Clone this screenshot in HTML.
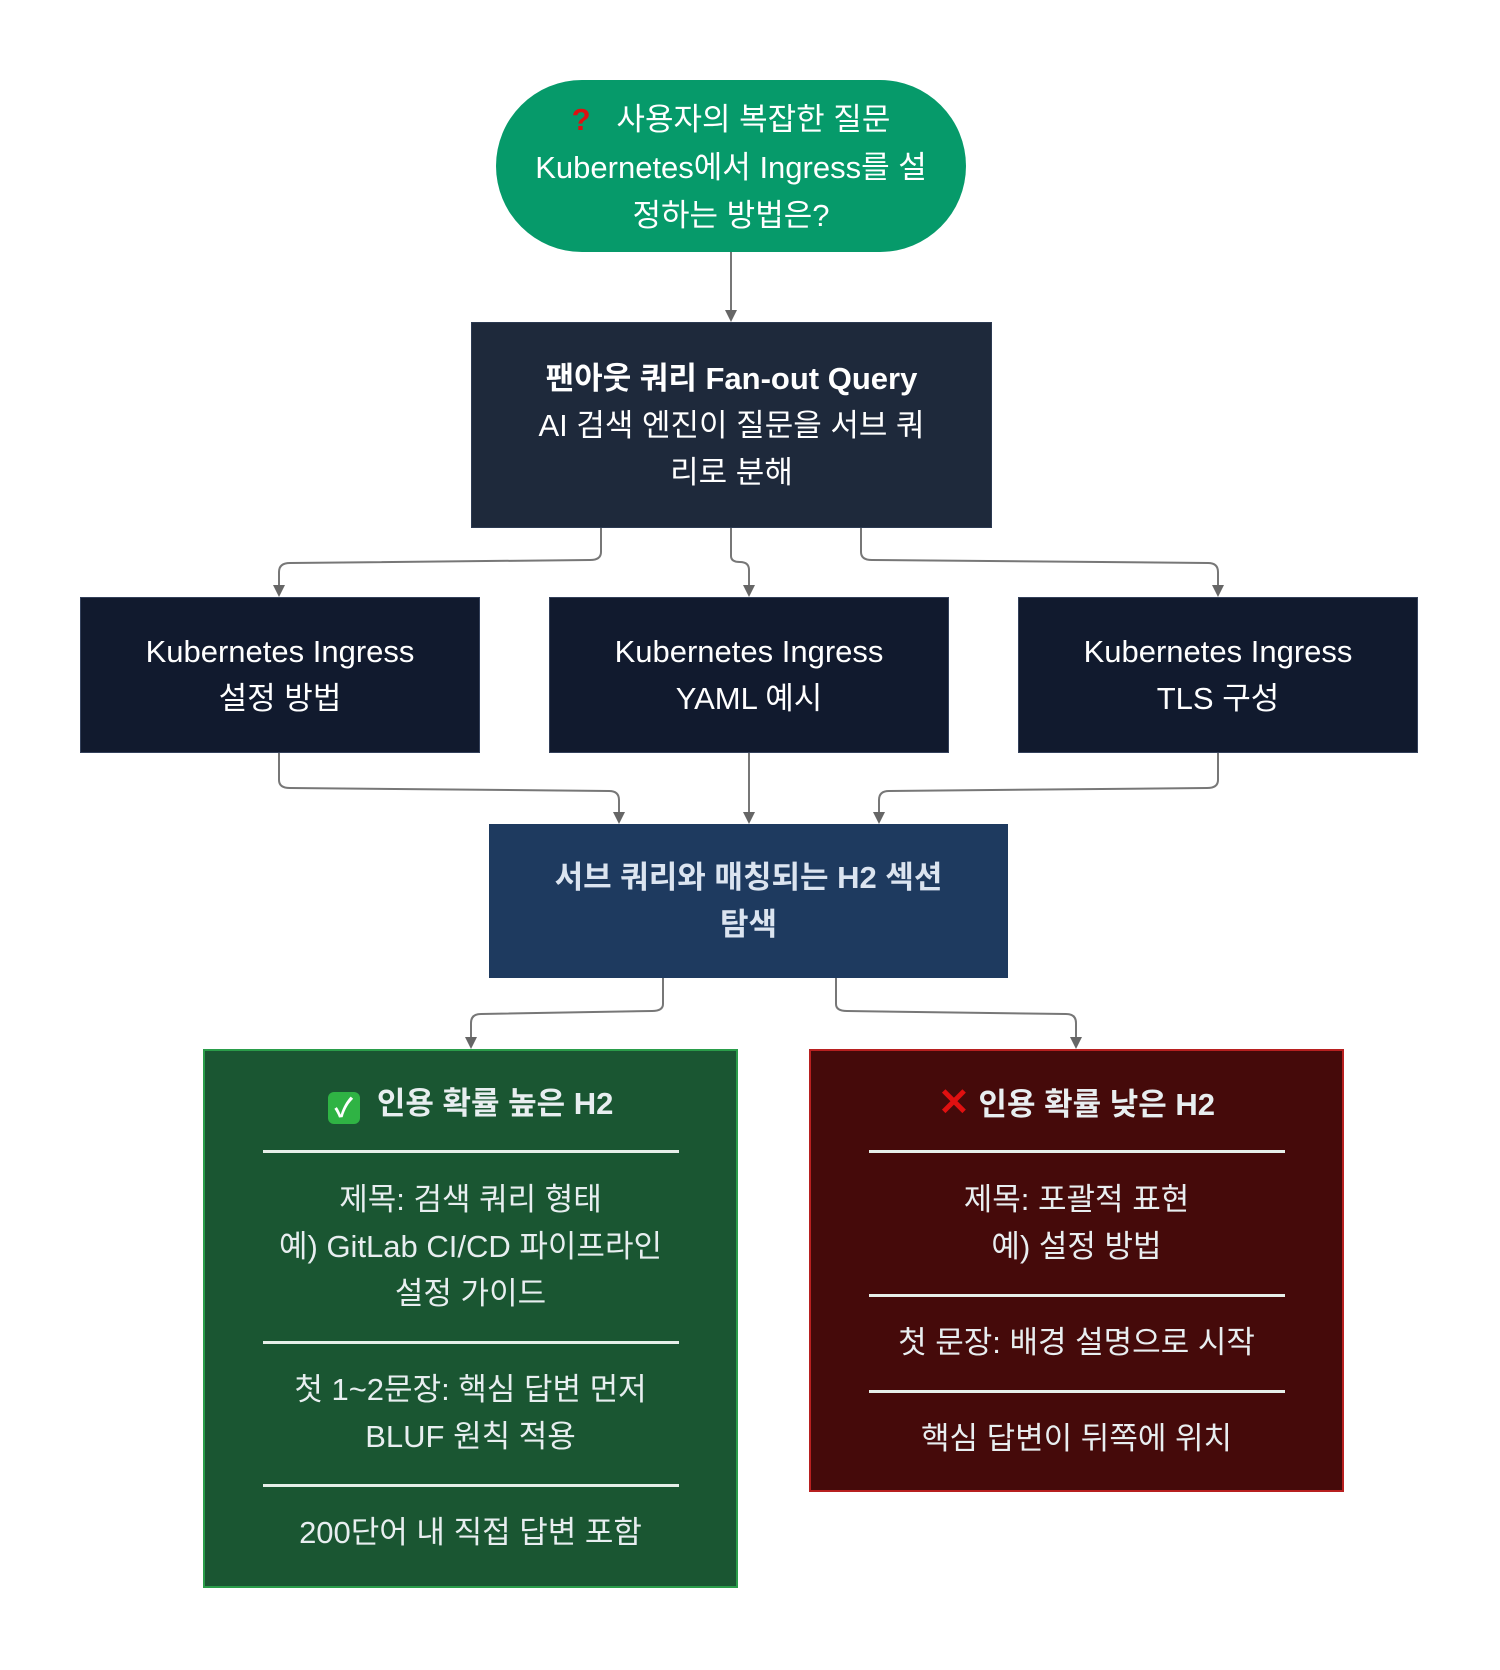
<!DOCTYPE html>
<html><head><meta charset="utf-8"><style>
body{margin:0;background:#fff;width:1500px;height:1670px;position:relative;overflow:hidden;font-family:"Liberation Sans","Noto Sans CJK KR",sans-serif;}
.n{position:absolute;box-sizing:border-box;display:flex;flex-direction:column;align-items:center;justify-content:center;text-align:center;color:#fff;font-size:31px;line-height:47px;}
.b{font-weight:bold}
.sep{width:416px;height:3px;background:#e6efe9;margin:0}
</style></head><body>
<svg width="1500" height="1670" style="position:absolute;left:0;top:0">
<g fill="none" stroke="#777" stroke-width="2">
<path d="M731,252 V312"/>
<path d="M601,528 V552 Q601,560 590,560 L290,563 Q279,563 279,572 V588" />
<path d="M731,528 V556 Q731,562 740,562 Q749,562 749,570 V588"/>
<path d="M861,528 V552 Q861,560 872,560 L1208,563 Q1218,563 1218,572 V588"/>
<path d="M279,753 V780 Q279,788 290,788 L609,791 Q619,791 619,800 V815"/>
<path d="M749,753 V815"/>
<path d="M1218,753 V780 Q1218,788 1207,788 L889,791 Q879,791 879,800 V815"/>
<path d="M663,978 V1004 Q663,1011 652,1011 L481,1014 Q471,1014 471,1023 V1040"/>
<path d="M836,978 V1004 Q836,1011 847,1011 L1066,1014 Q1076,1014 1076,1023 V1040"/>
</g>
<g fill="#666">
<path d="M725,310 L737,310 L731,322 z"/>
<path d="M273,585 L285,585 L279,597 z"/>
<path d="M743,585 L755,585 L749,597 z"/>
<path d="M1212,585 L1224,585 L1218,597 z"/>
<path d="M613,812 L625,812 L619,824 z"/>
<path d="M743,812 L755,812 L749,824 z"/>
<path d="M873,812 L885,812 L879,824 z"/>
<path d="M465,1037 L477,1037 L471,1049 z"/>
<path d="M1070,1037 L1082,1037 L1076,1049 z"/>
</g>
</svg>
<div class="n" style="left:496px;top:80px;width:470px;height:172px;background:#069a6a;border-radius:86px;line-height:48px;padding-top:4px">
<div><span style="color:#d11;font-weight:bold">?</span>&nbsp;&nbsp; 사용자의 복잡한 질문</div><div>Kubernetes에서 Ingress를 설</div><div>정하는 방법은?</div></div>
<div class="n" style="left:471px;top:322px;width:521px;height:206px;background:#1e293b;border:1px solid #2c3a52">
<div class="b">팬아웃 쿼리 Fan-out Query</div><div>AI 검색 엔진이 질문을 서브 쿼</div><div>리로 분해</div></div>
<div class="n" style="left:80px;top:597px;width:400px;height:156px;background:#111a2e;border:1px solid #33405a"><div>Kubernetes Ingress</div><div>설정 방법</div></div>
<div class="n" style="left:549px;top:597px;width:400px;height:156px;background:#111a2e;border:1px solid #33405a"><div>Kubernetes Ingress</div><div>YAML 예시</div></div>
<div class="n" style="left:1018px;top:597px;width:400px;height:156px;background:#111a2e;border:1px solid #33405a"><div>Kubernetes Ingress</div><div>TLS 구성</div></div>
<div class="n b" style="left:489px;top:824px;width:519px;height:154px;background:#1e3a5f;color:#dbe4f0"><div>서브 쿼리와 매칭되는 H2 섹션</div><div>탐색</div></div>
<div class="n" style="left:203px;top:1049px;width:535px;height:539px;background:#1a5632;border:2px solid #2a9d4a;justify-content:flex-start;color:#e8eef0">
<div class="b" style="margin-top:29px;height:48px"><span style="display:inline-block;width:32px;height:32px;background:#2fb344;border-radius:6px;color:#fff;font-size:26px;line-height:32px;vertical-align:-3px">✓</span>&nbsp; 인용 확률 높은 H2</div>
<div class="sep" style="margin-top:22px"></div>
<div style="margin-top:23px">제목: 검색 쿼리 형태</div><div>예) GitLab CI/CD 파이프라인</div><div>설정 가이드</div>
<div class="sep" style="margin-top:24px"></div>
<div style="margin-top:22px">첫 1~2문장: 핵심 답변 먼저</div><div>BLUF 원칙 적용</div>
<div class="sep" style="margin-top:24px"></div>
<div style="margin-top:22px">200단어 내 직접 답변 포함</div>
</div>
<div class="n" style="left:809px;top:1049px;width:535px;height:443px;background:#450a0a;border:2px solid #b82020;justify-content:flex-start;color:#e8eef0">
<div class="b" style="margin-top:29px;height:48px"><span style="color:#e01010;font-size:38px">✕</span> 인용 확률 낮은 H2</div>
<div class="sep" style="margin-top:22px"></div>
<div style="margin-top:23px">제목: 포괄적 표현</div><div>예) 설정 방법</div>
<div class="sep" style="margin-top:24px"></div>
<div style="margin-top:22px">첫 문장: 배경 설명으로 시작</div>
<div class="sep" style="margin-top:24px"></div>
<div style="margin-top:22px">핵심 답변이 뒤쪽에 위치</div>
</div>
</body></html>
